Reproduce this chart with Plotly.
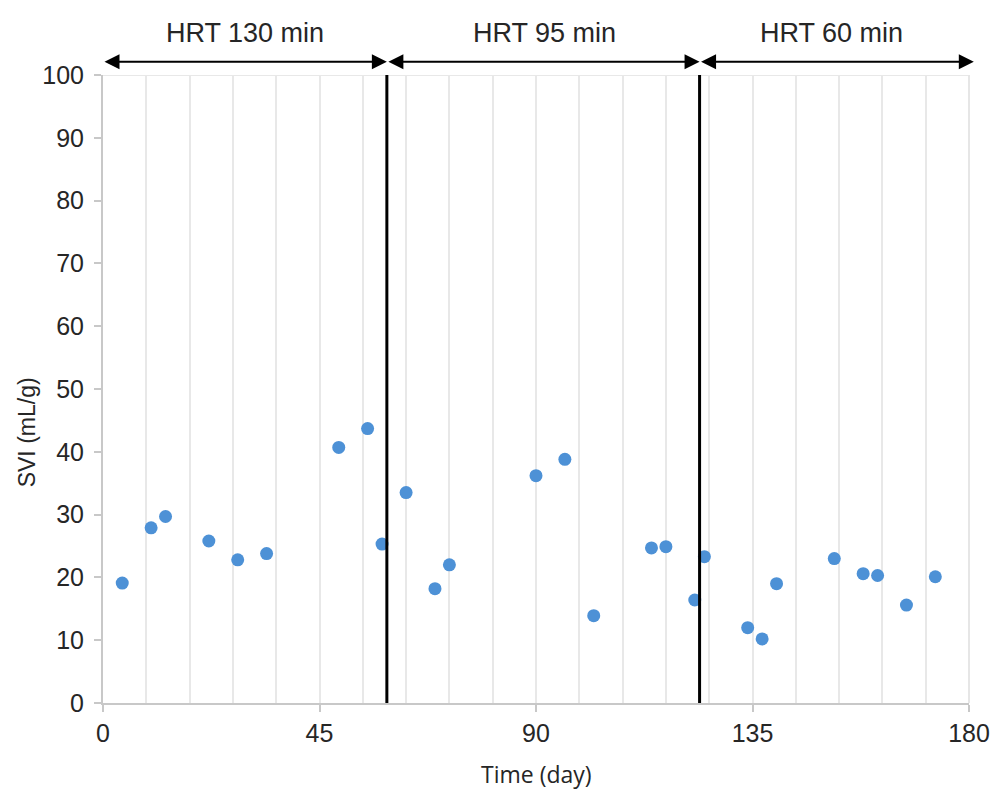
import plotly.graph_objects as go

days = [4, 10, 13, 22, 28, 34, 49, 55, 58, 63, 69, 72, 90, 96, 102, 114, 117, 123, 125,
        134, 137, 140, 152, 158, 161, 167, 173]
svi = [19.1, 27.9, 29.7, 25.8, 22.8, 23.8, 40.7, 43.7, 25.3, 33.5, 18.2, 22.0, 36.2, 38.8,
       13.9, 24.7, 24.9, 16.4, 23.3, 12.0, 10.2, 19.0, 23.0, 20.6, 20.3, 15.6, 20.1]

phase_bounds = [0, 59, 124, 181]
phase_labels = ["HRT 130 min", "HRT 95 min", "HRT 60 min"]
phase_label_x = [29.5, 91.7, 151.5]
x_ticks = [0, 45, 90, 135, 180]
y_ticks = [0, 10, 20, 30, 40, 50, 60, 70, 80, 90, 100]
x_max = 180

tick_font = dict(family="Liberation Sans, Arial, sans-serif", size=25, color="#262626")

fig = go.Figure()
fig.add_trace(go.Scatter(
    x=days, y=svi, mode="markers",
    marker=dict(size=13, color="#4d91d6"),
    showlegend=False, cliponaxis=False,
))

# vertical phase separators
for b in phase_bounds[1:-1]:
    fig.add_shape(type="line", xref="x", yref="y", x0=b, x1=b, y0=0, y1=100,
                  line=dict(color="black", width=3), layer="above")

# top / right frame lines
fig.add_shape(type="line", xref="paper", yref="y", x0=0, x1=1, y0=100, y1=100,
              line=dict(color="#e0e0e0", width=1.5), layer="below")
fig.add_shape(type="line", xref="paper", yref="y", x0=1, x1=1, y0=0, y1=100,
              line=dict(color="#e6e6e6", width=2), layer="below")

# double-headed arrows and phase labels (above the plot area)
for i in range(3):
    fig.add_annotation(x=phase_bounds[i + 1] / x_max, y=1.0212,
                       ax=phase_bounds[i] / x_max, ay=1.0212,
                       xref="x domain", yref="y domain", axref="x domain", ayref="y domain",
                       text="", showarrow=True, arrowhead=2, arrowside="end+start",
                       arrowsize=1.5, arrowwidth=2, arrowcolor="black",
                       standoff=0, startstandoff=0)
    fig.add_annotation(x=phase_label_x[i] / x_max, y=1.0669,
                       xref="x domain", yref="y domain", xanchor="center", yanchor="middle",
                       text=phase_labels[i], showarrow=False,
                       font=dict(family="Liberation Sans, Arial, sans-serif", size=27,
                                 color="#262626"))

# axis titles
fig.add_annotation(x=0.5, y=0, xref="paper", yref="paper", yshift=-71, text="Time (day)",
                   showarrow=False, yanchor="middle", xanchor="center",
                   font=dict(family="Open Sans, sans-serif", size=23, color="#262626"))
fig.add_annotation(x=0, y=0.431, xref="paper", yref="paper", xshift=-76, text="SVI (mL/g)",
                   textangle=-90, showarrow=False, xanchor="center", yanchor="middle",
                   font=dict(family="Liberation Sans, Arial, sans-serif", size=23,
                             color="#262626"))

fig.update_xaxes(range=[0, x_max], tickvals=x_ticks, ticktext=[str(v) for v in x_ticks],
                 showgrid=False, zeroline=False, showline=True, linecolor="#c8c8c8",
                 linewidth=2, ticks="outside", ticklen=7, tickcolor="#c8c8c8",
                 tickwidth=1.5, tickfont=tick_font, automargin=False,
                 minor=dict(dtick=9, tick0=0, showgrid=True, gridcolor="#e8e8e8",
                            gridwidth=1.5, ticks=""))
fig.update_yaxes(range=[0, 100], tickvals=y_ticks, showgrid=False, zeroline=False,
                 showline=True, linecolor="#c8c8c8", linewidth=2, ticks="outside",
                 ticklen=7, tickcolor="#c8c8c8", tickwidth=1.5, tickfont=tick_font,
                 ticklabelstandoff=5, automargin=False)

fig.update_layout(width=994, height=791, margin=dict(l=103, r=25, t=75, b=88),
                  plot_bgcolor="white", paper_bgcolor="white")

fig.write_html("out.html")
